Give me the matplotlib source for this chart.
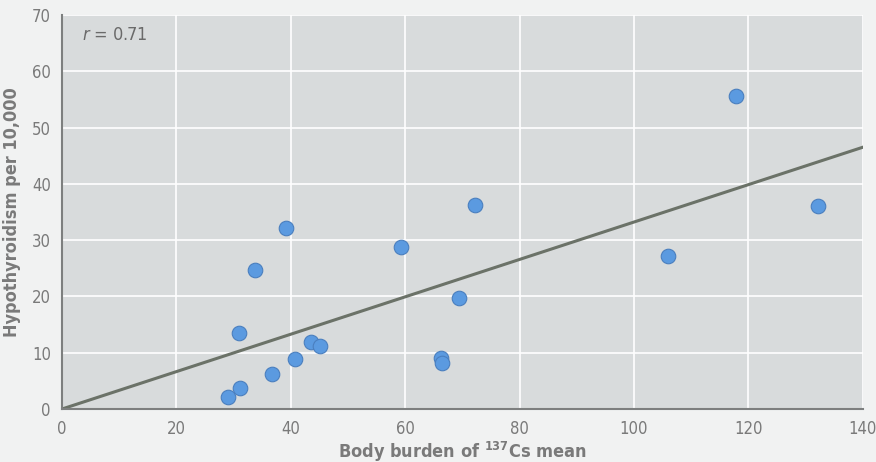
import matplotlib.pyplot as plt

# data
burden = [29.0, 31.1, 30.9, 36.7, 33.7, 39.2, 40.7, 43.5, 45.1, 59.3,
          66.3, 66.4, 69.4, 72.2, 105.9, 117.8, 132.2]
hypo = [2.1, 3.7, 13.5, 6.2, 24.7, 32.1, 8.9, 11.9, 11.2, 28.8,
        9.1, 8.2, 19.7, 36.2, 27.2, 55.6, 36.1]
fit_x = [0, 140]
fit_y = [0, 46.5]
x_ticks = [0, 20, 40, 60, 80, 100, 120, 140]
y_ticks = [0, 10, 20, 30, 40, 50, 60, 70]

plt.rcParams['font.family'] = ['DejaVu Sans']
plt.rcParams['font.stretch'] = 'condensed'
plt.rcParams['mathtext.fontset'] = 'custom'
plt.rcParams['mathtext.it'] = 'DejaVu Sans:italic'
plt.rcParams['mathtext.rm'] = 'DejaVu Sans:bold'

fig = plt.figure(figsize=(8.76, 4.62), dpi=100, facecolor='#f1f2f2')
ax = fig.add_axes([0.0708, 0.1147, 0.9142, 0.853])
ax.set_facecolor('#d8dbdc')

ax.plot(fit_x, fit_y, color='#6b7268', lw=2.2, zorder=2)
ax.scatter(burden, hypo, s=110, color='#5b9ae0', edgecolor='#4a7fbf', lw=0.8, zorder=3)

ax.set_xlim(0, 140)
ax.set_ylim(0, 70)
ax.set_xticks(x_ticks)
ax.set_yticks(y_ticks)
ax.grid(True, color='white', lw=1.2)
ax.set_axisbelow(True)
ax.tick_params(length=0, labelsize=12, colors='#7a7a7a', pad=8)
for s in ['top', 'right']:
    ax.spines[s].set_visible(False)
for s in ['left', 'bottom']:
    ax.spines[s].set_color('#7d7f7f')
    ax.spines[s].set_linewidth(1.5)

ax.set_xlabel('Body burden of $\\mathrm{^{137}}$Cs mean', fontsize=13, fontweight='bold',
              color='#7a7a7a', labelpad=1)
ax.set_ylabel('Hypothyroidism per 10,000', fontsize=13, fontweight='bold',
              color='#7a7a7a', labelpad=8)
ax.text(3.5, 66.5, '$r$ = 0.71', fontsize=13, color='#6a6a6a', va='center')

fig.savefig('out.png', dpi=100, facecolor=fig.get_facecolor())
